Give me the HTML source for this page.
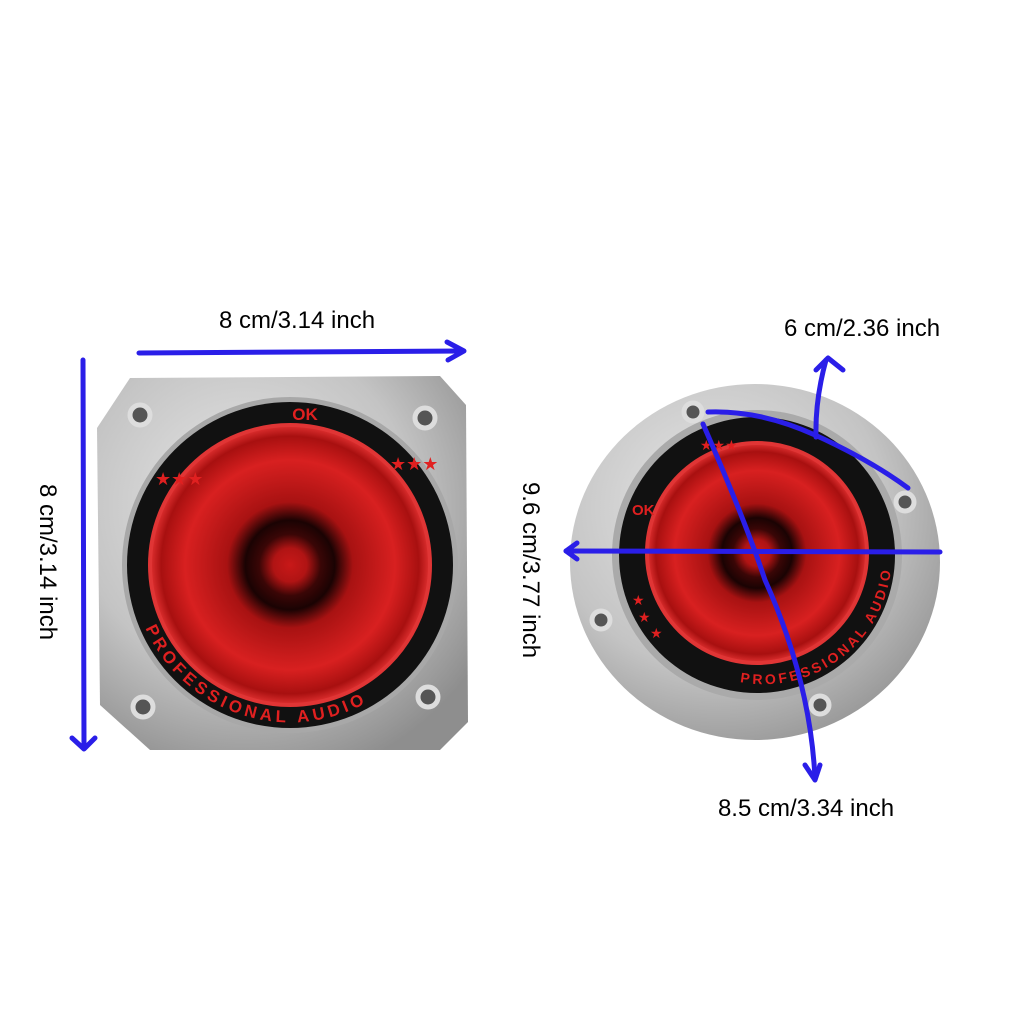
<!DOCTYPE html>
<html><head><style>
html,body{margin:0;padding:0;background:#fff;}
svg{display:block}
text{font-family:"Liberation Sans",sans-serif;}
</style></head><body>
<svg width="1020" height="1020" viewBox="0 0 1020 1020" xmlns="http://www.w3.org/2000/svg">
<defs>
<radialGradient id="silver" cx="40%" cy="35%" r="75%">
<stop offset="0" stop-color="#e8e8e8"/><stop offset="0.6" stop-color="#c4c4c4"/><stop offset="1" stop-color="#8e8e8e"/>
</radialGradient>
<radialGradient id="cone" cx="50%" cy="50%" r="50%">
<stop offset="0" stop-color="#c81818"/><stop offset="0.12" stop-color="#b01414"/><stop offset="0.22" stop-color="#3a0606"/><stop offset="0.32" stop-color="#1a0303"/>
<stop offset="0.45" stop-color="#a81212"/><stop offset="0.75" stop-color="#d82020"/><stop offset="0.92" stop-color="#a81010"/><stop offset="1" stop-color="#e03030"/>
</radialGradient>
</defs>
<rect width="1020" height="1020" fill="#fff"/>

<!-- Left speaker -->
<path d="M130 378 L440 376 L466 405 L468 722 L440 750 L150 750 L100 705 L97 428 Z" fill="url(#silver)"/>
<circle cx="290" cy="565" r="168" fill="#a8a8a8"/>
<circle cx="290" cy="565" r="163" fill="#111"/>
<circle cx="290" cy="565" r="140" fill="url(#cone)"/>
<circle cx="290" cy="565" r="140" fill="none" stroke="#e03535" stroke-width="4"/>
<g fill="#555" stroke="#ddd" stroke-width="5">
<circle cx="140" cy="415" r="10"/><circle cx="425" cy="418" r="10"/>
<circle cx="143" cy="707" r="10"/><circle cx="428" cy="697" r="10"/>
</g>
<text x="305" y="420" fill="#e02020" font-size="17" font-weight="bold" text-anchor="middle">OK</text>
<text x="155" y="485" fill="#e02020" font-size="18">★★★</text>
<text x="390" y="470" fill="#e02020" font-size="18">★★★</text>
<path id="lp" d="M135 595 A158 158 0 0 0 445 595" fill="none"/>
<text fill="#e02020" font-size="17" font-weight="bold" letter-spacing="4"><textPath href="#lp" startOffset="8%">PROFESSIONAL AUDIO</textPath></text>

<!-- Right speaker -->
<ellipse cx="755" cy="562" rx="185" ry="178" fill="url(#silver)"/>
<circle cx="757" cy="555" r="145" fill="#aaa"/>
<circle cx="757" cy="555" r="138" fill="#111"/>
<circle cx="757" cy="553" r="110" fill="url(#cone)"/>
<circle cx="757" cy="553" r="110" fill="none" stroke="#e03535" stroke-width="4"/>
<g fill="#555" stroke="#ddd" stroke-width="5">
<circle cx="693" cy="412" r="9"/><circle cx="905" cy="502" r="9"/>
<circle cx="601" cy="620" r="9"/><circle cx="820" cy="705" r="9"/>
</g>
<text x="700" y="450" fill="#e02020" font-size="14">★★★</text>
<text x="632" y="515" fill="#e02020" font-size="15" font-weight="bold">OK</text>
<text x="632" y="605" fill="#e02020" font-size="14">★</text>
<text x="638" y="622" fill="#e02020" font-size="14">★</text>
<text x="650" y="638" fill="#e02020" font-size="14">★</text>
<path id="rp" d="M740 682 A128 128 0 0 0 842 455" fill="none"/>
<text fill="#e02020" font-size="14" font-weight="bold" letter-spacing="3"><textPath href="#rp">PROFESSIONAL AUDIO</textPath></text>

<!-- blue annotations -->
<g stroke="#2a1ee8" stroke-width="5" fill="none" stroke-linecap="round" stroke-linejoin="round">
<path d="M139 353 L463 351"/><path d="M447 342 L464 351 L448 360"/>
<path d="M83 360 L84 747"/><path d="M72 738 L84 749 L95 738"/>
<path d="M566 551 L940 552"/><path d="M577 543 L566 551 L577 559"/>
<path d="M703 424 Q745 520 765 580 Q810 680 815 778"/><path d="M805 765 L815 780 L820 765"/>
<path d="M708 412 Q760 410 815 435 Q870 460 908 488"/>
<path d="M816 437 Q815 400 826 360"/><path d="M816 370 L828 358 L843 370"/>
</g>

<text x="297" y="328" font-size="24" text-anchor="middle" fill="#000">8 cm/3.14 inch</text>
<text x="862" y="336" font-size="24" text-anchor="middle" fill="#000">6 cm/2.36 inch</text>
<text x="806" y="816" font-size="24" text-anchor="middle" fill="#000">8.5 cm/3.34 inch</text>
<text transform="translate(40,562) rotate(90)" font-size="24" text-anchor="middle" fill="#000">8 cm/3.14 inch</text>
<text transform="translate(523,570) rotate(90)" font-size="24" text-anchor="middle" fill="#000">9.6 cm/3.77 inch</text>
</svg>
</body></html>
